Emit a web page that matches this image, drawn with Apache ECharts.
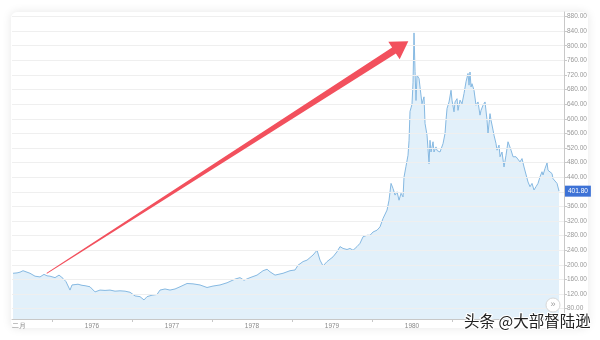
<!DOCTYPE html>
<html><head><meta charset="utf-8">
<script src="https://cdn.jsdelivr.net/npm/echarts@6/dist/echarts.min.js"></script>
<style>html,body{margin:0;padding:0;background:#fff;}#c{width:600px;height:340px;}</style>
</head><body><div id="c"></div>
<script>
// decimal years
const dates = [1975.013,1975.063,1975.1,1975.138,1975.175,1975.225,1975.288,1975.35,1975.4,1975.438,1975.475,1975.538,1975.588,1975.638,1975.675,1975.725,1975.75,1975.788,1975.825,1975.875,1975.913,1975.975,
1976.038,1976.1,1976.163,1976.225,1976.288,1976.35,1976.413,1976.475,1976.538,1976.6,1976.65,1976.688,1976.75,1976.813,1976.85,1976.913,1976.975,
1977.038,1977.1,1977.188,1977.263,1977.35,1977.438,1977.513,1977.6,1977.688,1977.788,1977.85,1977.9,1977.975,
1978.063,1978.138,1978.188,1978.225,1978.288,1978.313,1978.388,1978.475,1978.538,1978.575,1978.638,1978.688,1978.763,1978.813,1978.85,1978.888,1978.938,
1979.013,1979.063,1979.1,1979.138,1979.188,1979.225,1979.263,1979.313,1979.35,1979.388,1979.438,1979.475,1979.513,1979.563,1979.6,1979.638,1979.688,1979.713,1979.738,1979.763,1979.788,1979.813,1979.838,1979.863,1979.888,1979.9,1979.925,1979.95,1979.963,1979.975,1979.988,
1980.0,1980.013,1980.025,1980.038,1980.05,1980.063,1980.088,1980.1,1980.125,1980.15,1980.163,1980.188,1980.213,1980.225,1980.238,1980.263,1980.275,1980.3,1980.313,1980.35,1980.388,1980.413,1980.425,1980.438,1980.463,1980.488,1980.5,1980.525,1980.538,1980.563,1980.575,1980.6,1980.625,1980.65,1980.675,1980.7,1980.713,1980.725,1980.738,1980.75,1980.775,1980.8,1980.825,1980.85,1980.863,1980.888,1980.913,1980.938,1980.95,1980.975,1980.988,
1981.013,1981.025,1981.05,1981.063,1981.088,1981.1,1981.125,1981.15,1981.175,1981.2,1981.213,1981.238,1981.263,1981.275,1981.3,1981.325,1981.35,1981.375,1981.4,1981.425,1981.45,1981.475,1981.5,1981.525,1981.55,1981.575,1981.6,1981.625,1981.638,1981.663,1981.688,1981.7,1981.725,1981.75,1981.763,1981.788,1981.813,1981.838,1981.85];
const prices = [177,178,180,184,181,177,169,167,174,170,169,165,172,163,154,131,145,146,147,144,143,140,
126,131,130,131,128,129,128,125,115,113,104,113,117,119,131,134,131,
134,140,149,148,145,138,142,145,151,161,165,158,165,
172,184,188,181,172,168,177,184,186,199,209,213,227,240,213,197,209,
222,236,250,245,242,245,240,250,259,277,281,281,290,295,304,327,350,377,423,409,391,400,377,396,386,440,470,500,540,620,
630,640,700,835,730,650,719,710,687,641,660,587,555,477,541,509,537,509,523,513,509,532,560,596,628,646,678,651,619,646,655,623,651,641,669,701,724,692,728,687,696,678,637,646,610,623,637,646,596,560,614,
596,569,555,532,514,528,496,509,468,500,537,532,514,496,491,496,491,482,491,468,464,427,414,423,405,414,423,441,455,446,464,479,459,455,450,436,432,423,401.8];
const yTicks = [80,120,160,200,240,280,320,360,440,480,520,560,600,640,680,720,760,800,840,880];
const gridValues = [80,120,160,200,240,280,320,360,400,440,480,520,560,600,640,680,720,760,800,840,880];
const xLabelValues = [1975.083,1976,1977,1978,1979,1980];
const xLabelTexts = ['二月','1976','1977','1978','1979','1980'];
const xTickValues = [1975.5,1976.5,1977.5,1978.5,1979.5,1980.5,1981.5];
const lastPrice = 401.8;

const chart = echarts.init(document.getElementById('c'), null, {renderer:'canvas'});
const S=[46.7,273.3], B=[394,50.5], u=[0.8417,-0.54], n=[0.54,0.8417];
const P=(p,k,v)=>[p[0]+k*v[0], p[1]+k*v[1]];
const arrowPts=[P(S,-0.4,n),P(B,-3.5,n),P(B,-10.5,n),P(B,17,u),P(B,10.5,n),P(B,3.5,n),P(S,0.4,n)];
chart.setOption({
  animation:false,
  backgroundColor:'#fff',
  grid:{left:12,right:36,top:12,bottom:21},
  xAxis:{type:'value',min:1975,max:1981.9,
    axisLine:{show:true,lineStyle:{color:'#c8c8c8'}},
    axisTick:{show:true,length:3,lineStyle:{color:'#c8c8c8'},customValues:xTickValues},
    axisLabel:{customValues:xLabelValues,fontSize:6.5,color:'#888',fontFamily:'Liberation Sans',margin:4,
      formatter:v=>{const i=xLabelValues.findIndex(x=>Math.abs(x-v)<1e-6);return i>=0?xLabelTexts[i]:'';}},
    splitLine:{show:false}},
  yAxis:{type:'value',position:'right',min:51.8,max:892.3,
    axisLine:{show:true,lineStyle:{color:'#c8c8c8'}},
    axisTick:{show:true,length:3,lineStyle:{color:'#c8c8c8'},customValues:yTicks},
    axisLabel:{customValues:yTicks,fontSize:6.5,color:'#999',fontFamily:'Liberation Sans',margin:3,
      formatter:v=>v.toFixed(2)},
    splitLine:{show:false}},
  series:[
    {type:'line',z:1,data:[],silent:true,
      markLine:{silent:true,symbol:'none',label:{show:false},
        lineStyle:{color:'#efefef',type:'solid',width:1},
        data:gridValues.map(v=>({yAxis:v}))}},
    {type:'line',z:2,showSymbol:false,symbol:'none',silent:true,
      data:dates.map((d,i)=>[d,prices[i]]),
      lineStyle:{color:'#86b9e2',width:1},
      areaStyle:{color:'#e2f0fa',opacity:1}},
    {type:'line',z:5,data:[],silent:true,
      markLine:{silent:true,symbol:'none',
        lineStyle:{color:'rgba(0,0,0,0)',width:0},
        label:{show:true,position:'end',distance:1,formatter:lastPrice.toFixed(2),
          backgroundColor:'#3d72d6',color:'#fff',fontSize:6.5,padding:[2,3,2,3],fontFamily:'Liberation Sans'},
        data:[{yAxis:lastPrice}]}}
  ],
  graphic:[
    {type:'rect',z:-10,silent:true,shape:{x:11,y:12,width:577,height:316,r:6},
      style:{fill:'#fff',shadowBlur:10,shadowColor:'rgba(0,0,0,0.10)'}},
    {type:'polygon',z:50,silent:true,shape:{points:arrowPts},style:{fill:'#f2505d'}},
    {type:'circle',z:50,silent:true,shape:{cx:553,cy:305,r:7},style:{fill:'#fff',stroke:'#d8d8d8',lineWidth:1}},
    {type:'text',z:51,silent:true,x:553,y:305,style:{text:'»',fill:'#999',fontSize:9,align:'center',verticalAlign:'middle'}},
    {type:'text',z:60,silent:true,x:464,y:313,style:{text:'头条 @大部督陆逊',fill:'#222',stroke:'#fff',lineWidth:2,
      font:'15.5px "Noto Sans CJK SC"'}}
  ]
});
</script></body></html>
